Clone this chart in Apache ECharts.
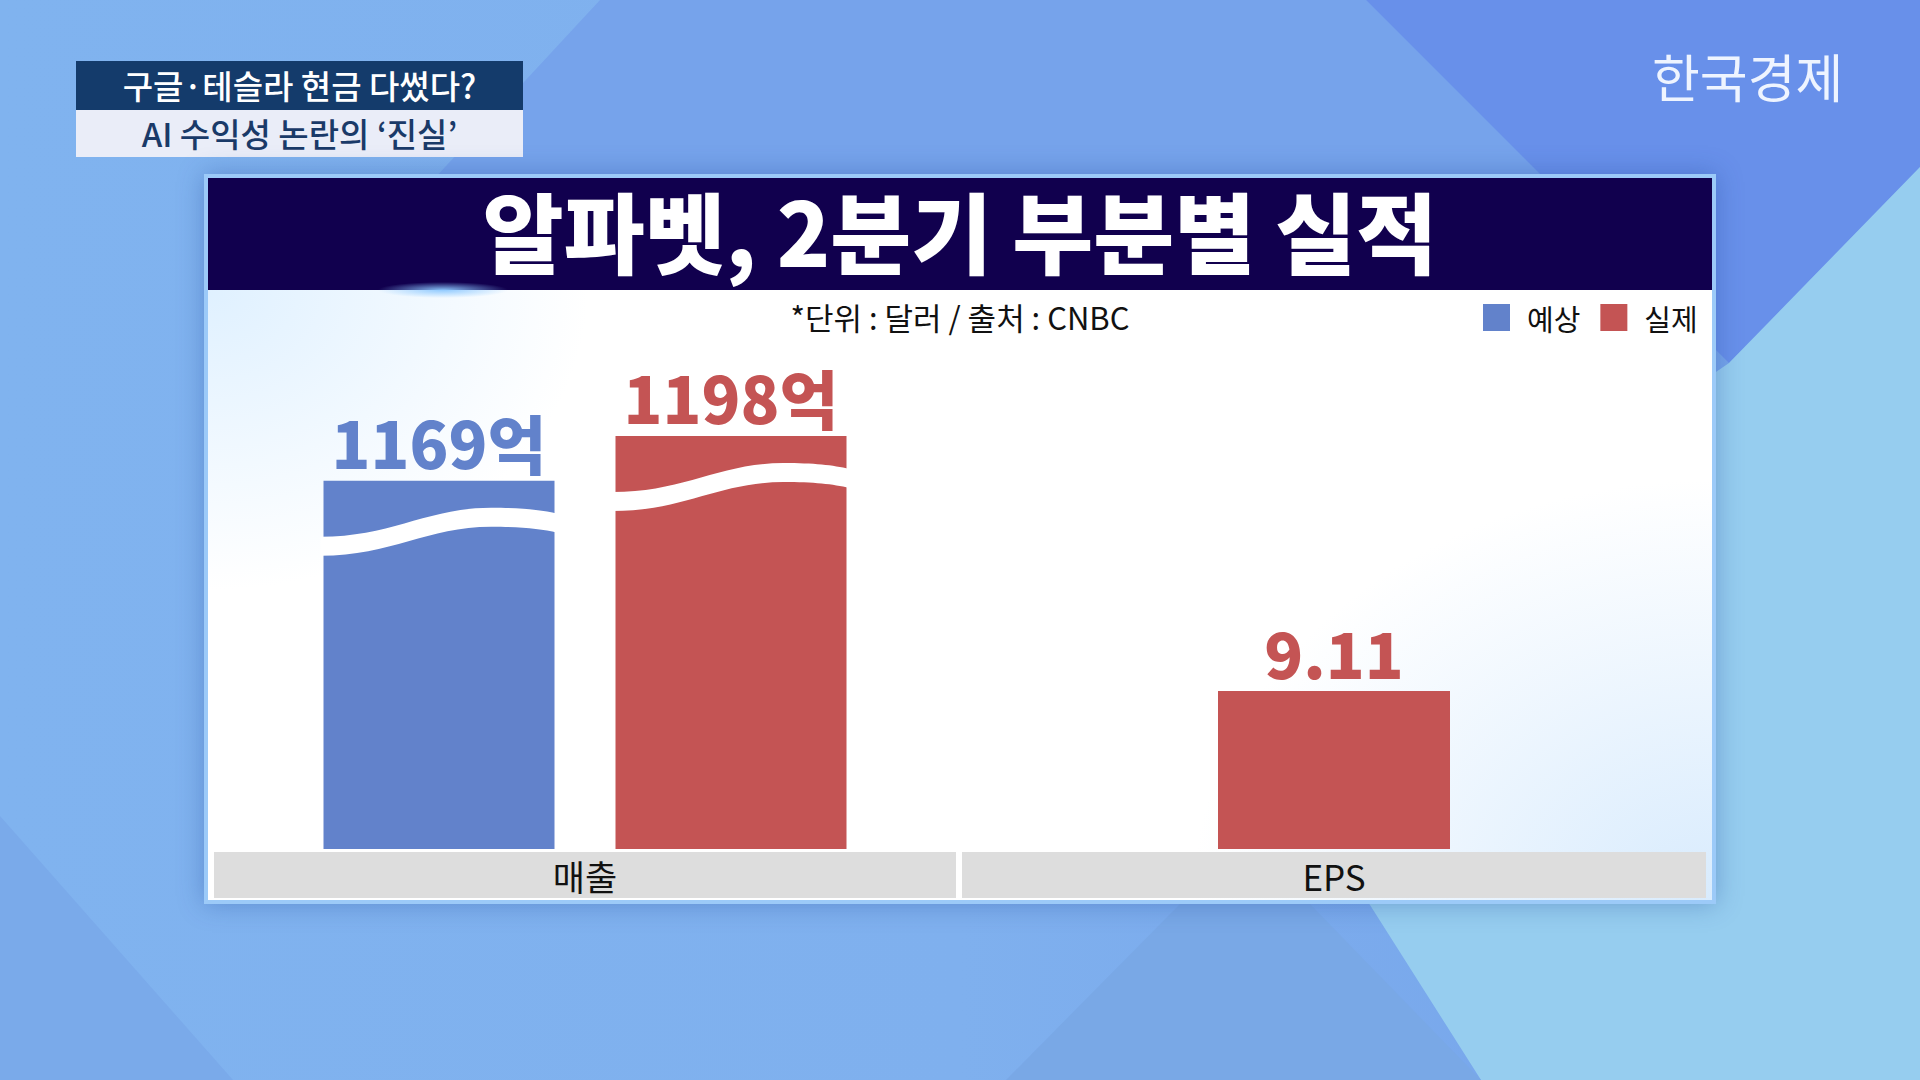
<!DOCTYPE html>
<html>
<head>
<meta charset="utf-8">
<script src="https://cdn.jsdelivr.net/npm/echarts@6/dist/echarts.min.js"></script>
<style>
  html, body { margin: 0; padding: 0; }
  body { width: 1920px; height: 1080px; overflow: hidden; position: relative;
    font-family: 'Noto Sans CJK KR', sans-serif;
    background: linear-gradient(90deg, #80b3ef 0%, #7fb0ee 50%, #74a2ea 100%); }
  .poly { position: absolute; left: 0; top: 0; width: 1920px; height: 1080px; }
  #p1 { background: #76a3eb; clip-path: polygon(600px 0, 1366px 0, 1560px 194px, 420px 194px); }
  #p2 { background: #6890ea; clip-path: polygon(1366px 0, 1920px 0, 1920px 167px, 1729px 363px); }
  #p3 { background: #96cdef; clip-path: polygon(1920px 167px, 1920px 1080px, 1481px 1080px, 1240px 700px, 1729px 363px); }
  #p4 { background: #79a8e6; clip-path: polygon(1180px 904px, 1310px 904px, 1481px 1080px, 1006px 1080px); }
  #p5 { background: #7aaaea; clip-path: polygon(0 816px, 233px 1080px, 0 1080px); }
  #head1 { position: absolute; left: 76px; top: 61px; width: 447px; height: 49px; background: #143b6b;
    color: #fff; font-size: 33px; font-weight: 500; line-height: 49px; text-align: center; }
  #head2 { position: absolute; left: 76px; top: 110px; width: 447px; height: 47px; background: #eaedf8;
    color: #1a3a68; font-size: 33px; font-weight: 500; line-height: 47px; text-align: center; }
  #logo { position: absolute; left: 1652px; top: 38px; color: #eef4ff; font-size: 52px; font-weight: 400; }
  #panel { position: absolute; left: 204px; top: 174px; width: 1504px; height: 722px;
    border: 4px solid #9ccaf8; box-shadow: 0 0 24px rgba(30, 70, 150, 0.35);
    background:
      radial-gradient(ellipse 380px 300px at 0 112px, rgba(220, 239, 255, 0.9), rgba(255,255,255,0) 100%),
      radial-gradient(ellipse 520px 420px at 100% 100%, rgba(214, 234, 253, 0.95), rgba(255,255,255,0) 100%),
      #ffffff; }
  #navy { position: absolute; left: 0; top: 0; width: 100%; height: 112px; background: #11004e; }
  #flare { position: absolute; left: 170px; top: 102px; width: 130px; height: 20px;
    background: radial-gradient(ellipse 65px 8px at 50% 50%, rgba(140, 200, 255, 0.95), rgba(60, 120, 255, 0) 100%); }
  #chart { position: absolute; left: 0; top: 0; width: 1920px; height: 1080px; }
</style>
</head>
<body>
<div class="poly" id="p1"></div>
<div class="poly" id="p2"></div>
<div class="poly" id="p3"></div>
<div class="poly" id="p4"></div>
<div class="poly" id="p5"></div>
<div id="head1">구글·테슬라 현금 다썼다?</div>
<div id="head2">AI 수익성 논란의 ‘진실’</div>
<div id="logo">한국경제</div>
<div id="panel"><div id="navy"></div><div id="flare"></div></div>
<div id="chart"></div>
<script>
// 단위: 억 달러 (매출), 달러 (EPS)
const categories = ['매출', 'EPS'];
const seriesNames = ['예상', '실제'];
const revenueExpected = [1169];
const revenueActual = [1198];
const epsActual = [9.11];

const BLUE = '#6282cb';
const RED = '#c45454';
const BAR_W = 231;
const BAR_GAP = 61;
const KR = "'Noto Sans CJK KR', sans-serif";

// 물결 모양 생략 표시 (막대 꼭대기 기준)
function waveItem(side) {
  return function (params, api) {
    const top = api.coord([api.value(0), api.value(1)]);
    const cx = top[0] + side * (BAR_W + BAR_GAP) / 2;
    const x0 = cx - BAR_W / 2 - 3, x1 = cx + BAR_W / 2 + 3;
    const w = x1 - x0, y = top[1], t = 19;
    const d = 'M' + x0 + ',' + (y + 56) +
      ' C' + (x0 + 0.3 * w) + ',' + (y + 56) + ' ' + (x0 + 0.45 * w) + ',' + (y + 27) + ' ' + (x0 + 0.72 * w) + ',' + (y + 27) +
      ' C' + (x0 + 0.85 * w) + ',' + (y + 27) + ' ' + (x0 + 0.93 * w) + ',' + (y + 29) + ' ' + x1 + ',' + (y + 33) +
      ' L' + x1 + ',' + (y + 33 + t) +
      ' C' + (x0 + 0.93 * w) + ',' + (y + 29 + t) + ' ' + (x0 + 0.85 * w) + ',' + (y + 27 + t) + ' ' + (x0 + 0.72 * w) + ',' + (y + 27 + t) +
      ' C' + (x0 + 0.45 * w) + ',' + (y + 27 + t) + ' ' + (x0 + 0.3 * w) + ',' + (y + 56 + t) + ' ' + x0 + ',' + (y + 56 + t) + ' Z';
    return { type: 'path', shape: { pathData: d }, style: { fill: '#ffffff' } };
  };
}

function barLabel(color, fmt) {
  return {
    show: true, position: 'top', distance: 8, formatter: fmt,
    color: color, fontSize: 64, fontWeight: 900, fontFamily: KR
  };
}

function catAxis(idx, width) {
  return {
    type: 'category', gridIndex: idx, data: [categories[idx]],
    axisLine: { show: false }, axisTick: { show: false },
    axisLabel: {
      margin: 3, backgroundColor: '#dddddd', width: width, height: 46, lineHeight: 46,
      align: 'center', fontSize: 35, color: '#111111', fontFamily: KR
    }
  };
}

const chart = echarts.init(document.getElementById('chart'), null, { renderer: 'svg' });
chart.setOption({
  animation: false,
  title: [
    { text: '알파벳, 2분기 부분별 실적', left: 'center', top: 171,
      textStyle: { color: '#ffffff', fontSize: 88, fontWeight: 900, lineHeight: 104, fontFamily: KR } },
    { text: '*단위 : 달러 / 출처 : CNBC', left: 'center', top: 292,
      textStyle: { color: '#111111', fontSize: 31, fontWeight: 'normal', lineHeight: 38, fontFamily: KR } }
  ],
  legend: {
    data: seriesNames, left: 1478, top: 298, icon: 'rect', itemWidth: 27, itemHeight: 27, itemGap: 20,
    textStyle: { fontSize: 29, color: '#111111', fontFamily: KR, padding: [0, 0, 0, 12] }
  },
  grid: [
    { left: 214, width: 742, top: 433, height: 416 },
    { left: 962, width: 744, top: 433, height: 416 }
  ],
  xAxis: [catAxis(0, 742), catAxis(1, 744)],
  yAxis: [
    { type: 'value', gridIndex: 0, min: 930, max: 1200, show: false },
    { type: 'value', gridIndex: 1, min: 0, max: 24, show: false }
  ],
  series: [
    { name: seriesNames[0], type: 'bar', xAxisIndex: 0, yAxisIndex: 0, data: revenueExpected,
      barWidth: BAR_W, barGap: (BAR_GAP / BAR_W * 100) + '%', itemStyle: { color: BLUE },
      label: barLabel(BLUE, '{c}억') },
    { name: seriesNames[1], type: 'bar', xAxisIndex: 0, yAxisIndex: 0, data: revenueActual,
      barWidth: BAR_W, barGap: (BAR_GAP / BAR_W * 100) + '%', itemStyle: { color: RED },
      label: barLabel(RED, '{c}억') },
    { name: seriesNames[1], type: 'bar', xAxisIndex: 1, yAxisIndex: 1, data: epsActual,
      barWidth: BAR_W + 1, itemStyle: { color: RED },
      label: barLabel(RED, '{c}') },
    { name: seriesNames[0], type: 'custom', xAxisIndex: 0, yAxisIndex: 0, z: 5, silent: true,
      data: revenueExpected.map((v, i) => [i, v]), renderItem: waveItem(-1) },
    { name: seriesNames[1], type: 'custom', xAxisIndex: 0, yAxisIndex: 0, z: 5, silent: true,
      data: revenueActual.map((v, i) => [i, v]), renderItem: waveItem(1) }
  ]
});
</script>
</body>
</html>
